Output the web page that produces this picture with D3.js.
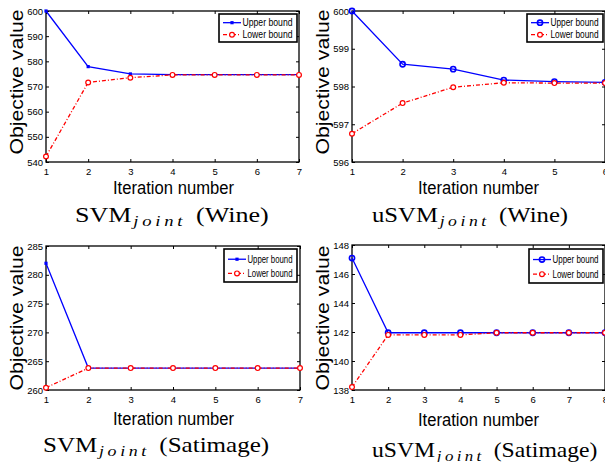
<!DOCTYPE html>
<html>
<head>
<meta charset="utf-8">
<script src="https://cdn.jsdelivr.net/npm/d3@7"></script>
<style>
  body { margin: 0; background: #fff; }
  svg { display: block; }
</style>
</head>
<body>
<script>
// ---- data ----
var wineIter = [1, 2, 3, 4, 5, 6, 7];
var svmWineUpper = [600.0, 577.9, 575.0, 574.7, 574.7, 574.7, 574.7];
var svmWineLower = [542.2, 571.6, 573.5, 574.6, 574.6, 574.6, 574.6];
var svmWineTicks = [540, 550, 560, 570, 580, 590, 600];

var uWineIter = [1, 2, 3, 4, 5, 6];
var usvmWineUpper = [600.0, 598.59, 598.46, 598.17, 598.13, 598.11];
var usvmWineLower = [596.75, 597.56, 597.98, 598.10, 598.09, 598.09];
var usvmWineTicks = [596, 597, 598, 599, 600];

var satIter = [1, 2, 3, 4, 5, 6, 7];
var svmSatUpper = [282.0, 263.8, 263.8, 263.8, 263.8, 263.8, 263.8];
var svmSatLower = [260.4, 263.8, 263.8, 263.8, 263.8, 263.8, 263.8];
var svmSatTicks = [260, 265, 270, 275, 280, 285];

var uSatIter = [1, 2, 3, 4, 5, 6, 7, 8];
var usvmSatUpper = [147.1, 141.95, 141.95, 141.95, 141.95, 141.95, 141.95, 141.95];
var usvmSatLower = [138.2, 141.8, 141.8, 141.8, 141.95, 141.95, 141.95, 141.95];
var usvmSatTicks = [138, 140, 142, 144, 146, 148];

var legendNames = ["Upper bound", "Lower bound"];

var width = 605, height = 462;
var blue = "#0000ff", red = "#ff0000";
var sans = "'Liberation Sans', Arial, sans-serif";
var serif = "'Liberation Serif', 'Times New Roman', serif";

var svg = d3.select("body").append("svg")
    .attr("width", width)
    .attr("height", height);

// layout of each panel (pixels)
var panels = [
  {iters: wineIter, upper: svmWineUpper, lower: svmWineLower, ticks: svmWineTicks,
   upMarker: "square", prefix: "SVM", name: "Wine",
   left: 46, right: 299, top: 11, bottom: 162,
   leg: [219, 14, 78, 28], ylab: [22.5, 82], xlab: [173.5, 193.5], cap: [166, 222, 182]},
  {iters: uWineIter, upper: usvmWineUpper, lower: usvmWineLower, ticks: usvmWineTicks,
   upMarker: "circle", prefix: "uSVM", name: "Wine",
   left: 352, right: 605, top: 11, bottom: 162,
   leg: [527, 14, 76, 28], ylab: [329, 82], xlab: [478.5, 193.5], cap: [464.5, 222, 185]},
  {iters: satIter, upper: svmSatUpper, lower: svmSatLower, ticks: svmSatTicks,
   upMarker: "square", prefix: "SVM", name: "Satimage",
   left: 46, right: 300, top: 246, bottom: 390,
   leg: [224, 249, 73, 33], ylab: [22.5, 318], xlab: [173.5, 425], cap: [150.5, 452, 215]},
  {iters: uSatIter, upper: usvmSatUpper, lower: usvmSatLower, ticks: usvmSatTicks,
   upMarker: "circle", prefix: "uSVM", name: "Satimage",
   left: 352, right: 605, top: 245, bottom: 390,
   leg: [529, 249, 74, 34], ylab: [329, 318], xlab: [478.5, 426], cap: [479.5, 457, 215]}
];

function drawMarker(sel, kind, color, cx, cy) {
  if (kind === "square") {
    sel.append("rect")
      .attr("x", cx - 1.6).attr("y", cy - 1.6)
      .attr("width", 3.2).attr("height", 3.2)
      .attr("fill", color);
  } else if (kind === "circle") {
    sel.append("circle")
      .attr("cx", cx).attr("cy", cy).attr("r", 2.6)
      .attr("fill", "none").attr("stroke", color).attr("stroke-width", 1.6);
  } else {
    sel.append("circle")
      .attr("cx", cx).attr("cy", cy).attr("r", 2.4)
      .attr("fill", "#fff").attr("stroke", color).attr("stroke-width", 1.2);
  }
}

panels.forEach(function(p) {
  var g = svg.append("g");
  var n = p.iters.length;

  var x = d3.scaleLinear()
      .domain([p.iters[0], p.iters[n - 1]])
      .range([p.left, p.right]);
  var y = d3.scaleLinear()
      .domain([p.ticks[0], p.ticks[p.ticks.length - 1]])
      .range([p.bottom, p.top]);

  g.append("rect")
    .attr("x", p.left).attr("y", p.top)
    .attr("width", p.right - p.left).attr("height", p.bottom - p.top)
    .attr("fill", "#fff");

  // axes, ticks pointing inward like matlab
  var ax = [
    g.append("g").attr("transform", "translate(0," + p.bottom + ")")
      .call(d3.axisBottom(x).tickValues(p.iters).tickFormat(d3.format("d"))
        .tickSizeInner(-3).tickSizeOuter(0).tickPadding(6)),
    g.append("g").attr("transform", "translate(0," + p.top + ")")
      .call(d3.axisTop(x).tickValues(p.iters).tickFormat("")
        .tickSizeInner(-3).tickSizeOuter(0)),
    g.append("g").attr("transform", "translate(" + p.left + ",0)")
      .call(d3.axisLeft(y).tickValues(p.ticks).tickFormat(d3.format("d"))
        .tickSizeInner(-3).tickSizeOuter(0).tickPadding(3)),
    g.append("g").attr("transform", "translate(" + p.right + ",0)")
      .call(d3.axisRight(y).tickValues(p.ticks).tickFormat("")
        .tickSizeInner(-3).tickSizeOuter(0))
  ];
  ax.forEach(function(a) {
    a.select(".domain").remove();
    a.selectAll(".tick line").attr("stroke", "#000").attr("stroke-width", 1);
    a.selectAll(".tick text")
      .attr("font-family", sans).attr("font-size", 9.5).attr("fill", "#000");
  });

  g.append("rect")
    .attr("x", p.left).attr("y", p.top)
    .attr("width", p.right - p.left).attr("height", p.bottom - p.top)
    .attr("fill", "none").attr("stroke", "#000").attr("stroke-width", 1.3);

  var line = d3.line()
    .x(function(d, i) { return x(p.iters[i]); })
    .y(function(d) { return y(d); });

  g.append("path").datum(p.upper)
    .attr("d", line).attr("fill", "none")
    .attr("stroke", blue).attr("stroke-width", 1.3);
  g.append("path").datum(p.lower)
    .attr("d", line).attr("fill", "none")
    .attr("stroke", red).attr("stroke-width", 1.3)
    .attr("stroke-dasharray", "4,2,1,2");

  p.upper.forEach(function(v, i) { drawMarker(g, p.upMarker, blue, x(p.iters[i]), y(v)); });
  p.lower.forEach(function(v, i) { drawMarker(g, "open", red, x(p.iters[i]), y(v)); });

  // legend
  var lx = p.leg[0], ly = p.leg[1], lw = p.leg[2], lh = p.leg[3];
  g.append("rect")
    .attr("x", lx).attr("y", ly).attr("width", lw).attr("height", lh)
    .attr("fill", "#fff").attr("stroke", "#000").attr("stroke-width", 1.6);
  var rows = [ly + lh * 0.31, ly + lh * 0.74];
  legendNames.forEach(function(name, i) {
    var col = i === 0 ? blue : red;
    g.append("line")
      .attr("x1", lx + 4).attr("x2", lx + 22)
      .attr("y1", rows[i]).attr("y2", rows[i])
      .attr("stroke", col).attr("stroke-width", 1.3)
      .attr("stroke-dasharray", i === 0 ? null : "4,2,1,2");
    drawMarker(g, i === 0 ? p.upMarker : "open", col, lx + 13, rows[i]);
    g.append("text")
      .attr("x", lx + 23.5).attr("y", rows[i]).attr("dy", "0.36em")
      .attr("font-family", sans).attr("font-size", 10)
      .attr("textLength", lw - 28).attr("lengthAdjust", "spacingAndGlyphs")
      .text(name);
  });

  // axis labels
  g.append("text")
    .attr("transform", "translate(" + p.ylab[0] + "," + p.ylab[1] + ") rotate(-90)")
    .attr("text-anchor", "middle")
    .attr("font-family", sans).attr("font-size", 17.5)
    .attr("textLength", 145).attr("lengthAdjust", "spacingAndGlyphs")
    .text("Objective value");

  g.append("text")
    .attr("x", p.xlab[0]).attr("y", p.xlab[1])
    .attr("text-anchor", "middle")
    .attr("font-family", sans).attr("font-size", 17.5)
    .attr("textLength", 121).attr("lengthAdjust", "spacingAndGlyphs")
    .text("Iteration number");

  // caption under each panel
  var cap = g.append("text")
    .attr("x", 0).attr("y", p.cap[1])
    .attr("font-family", serif).attr("font-size", 21);
  cap.append("tspan").text(p.prefix);
  cap.append("tspan").attr("dy", 4).attr("dx", 1.5)
    .attr("font-style", "italic").attr("font-size", 15)
    .attr("letter-spacing", 3).text("joint");
  cap.append("tspan").attr("dy", -4).attr("dx", 8)
    .text("(" + p.name + ")");
  var w = cap.node().getComputedTextLength();
  var sx = p.cap[2] / w;
  cap.attr("transform", "translate(" + (p.cap[0] - p.cap[2] / 2) + ",0) scale(" + sx + ",1)");
});
</script>
</body>
</html>
